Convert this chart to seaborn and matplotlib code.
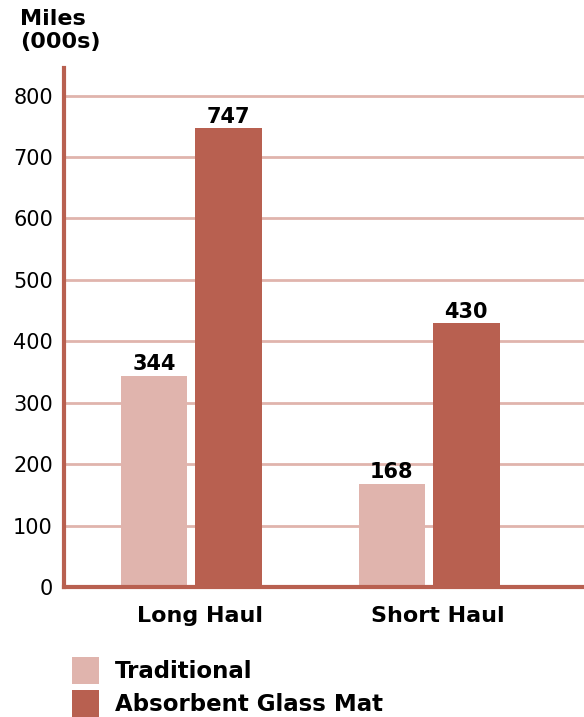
import matplotlib
matplotlib.use("Agg")
import matplotlib.pyplot as plt
import seaborn as sns
import pandas as pd
from matplotlib.patches import Patch

categories = ["Long Haul", "Short Haul"]
series_names = ["Traditional", "Absorbent Glass Mat"]
traditional = [344, 168]
agm = [747, 430]
yticks = [0, 100, 200, 300, 400, 500, 600, 700, 800]

light = "#E0B4AD"
dark = "#B86050"

df = pd.DataFrame({
    "Haul": categories * 2,
    "Type": [series_names[0]] * 2 + [series_names[1]] * 2,
    "Miles": traditional + agm,
})

sns.set_theme(style="white")
plt.rcParams["font.family"] = ["DejaVu Sans"]
plt.rcParams["text.color"] = "black"

fig = plt.figure(figsize=(5.84, 7.17), dpi=100)
ax = fig.add_axes([64 / 584, 1 - 587 / 717, 1 - 64 / 584, (587 - 68) / 717])

sns.barplot(data=df, x="Haul", y="Miles", hue="Type", order=categories,
            hue_order=series_names, palette=[light, dark], width=0.626,
            gap=0.107, saturation=1, ax=ax, legend=False, zorder=3,
            linewidth=0, edgecolor="none")

ax.set_ylim(0, 845)
ax.set_xlim(-0.534, 1.651)
ax.set_yticks(yticks)
ax.set_yticklabels([str(t) for t in yticks], fontsize=15, color="black")
ax.set_xticks(range(len(categories)))
ax.set_xticklabels([""] * len(categories))
for i, cat in enumerate(categories):
    ax.annotate(cat, xy=(i, 0), xycoords=("data", "axes fraction"),
                xytext=(6.5, -14), textcoords="offset points",
                ha="center", va="top", fontsize=16, fontweight="bold",
                color="black")
ax.tick_params(axis="both", length=0)
ax.tick_params(axis="y", pad=8)
ax.set_xlabel("")
ax.set_ylabel("")
ax.yaxis.grid(True, color=light, linewidth=2, zorder=0)
ax.set_axisbelow(True)
for s in ["top", "right"]:
    ax.spines[s].set_visible(False)
for s in ["left", "bottom"]:
    ax.spines[s].set_color(dark)
    ax.spines[s].set_linewidth(3)
    ax.spines[s].set_zorder(5)

for cont in ax.containers:
    ax.bar_label(cont, fmt="%d", padding=1, fontsize=15, fontweight="bold",
                 color="black")

fig.text(20 / 584, 1 - 9 / 717, "Miles\n(000s)", fontsize=16, fontweight="bold",
         color="black", ha="left", va="top", linespacing=1.2)

handles = [Patch(facecolor=light, edgecolor="none"),
           Patch(facecolor=dark, edgecolor="none")]
leg = fig.legend(handles, series_names, loc="upper left",
                 bbox_to_anchor=(72 / 584, 1 - 657 / 717), frameon=False,
                 prop={"size": 16.5, "weight": "bold"}, handlelength=1.18,
                 handleheight=1.46, labelspacing=0.25, handletextpad=0.7,
                 borderaxespad=0, borderpad=0)
for t in leg.get_texts():
    t.set_color("black")

fig.savefig("out.png", dpi=100)
